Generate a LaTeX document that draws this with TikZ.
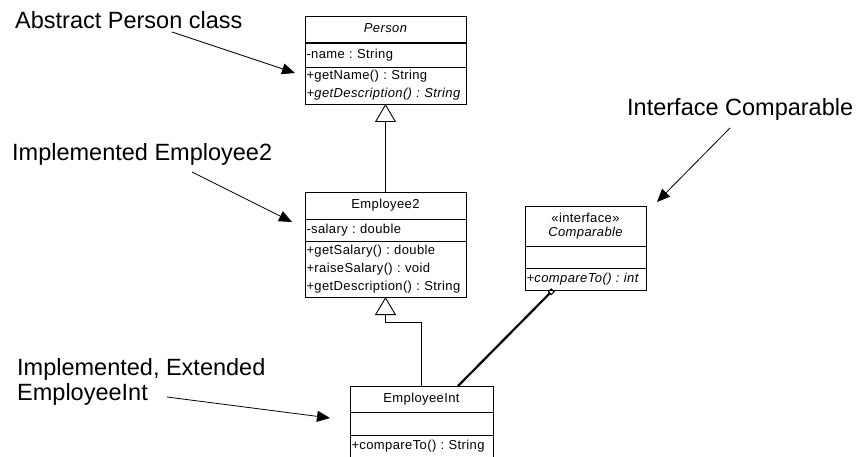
\documentclass[tikz,border=0pt]{standalone}
\usepackage{fontspec}
\setmainfont{Liberation Sans}
\newfontfamily\umlfont[LetterSpace=3]{Liberation Sans}
\usetikzlibrary{positioning,arrows.meta}

\begin{document}
\begin{tikzpicture}[x=1pt, y=-1pt, box/.style={draw, rectangle, line width=0.9pt, inner xsep=1.5pt, inner ysep=0pt, outer sep=0pt, align=left, font=\umlfont\fontsize{13}{18}\selectfont}, oneline/.style={text height=9.5pt, text depth=3pt}, note/.style={font=\fontsize{23.5}{25}\selectfont, inner sep=0pt, anchor=base west}, pointer/.style={line width=0.8pt, -{Triangle[length=13pt, width=11pt]}}, inherit/.style={line width=0.9pt, -{Triangle[open, length=18pt, width=21pt]}}]

\useasboundingbox (0,0) rectangle (859,457);

\node(person) [box, oneline, anchor=north west, text width=158pt, minimum height=27pt, align=center] at (305,16) {\itshape Person};
\node(personattr) [box, oneline, below=0pt of person, text width=158pt, minimum height=24pt] {-name~:~String};
\node(personops) [box, below=0pt of personattr, text width=158pt, minimum height=37pt] {+getName()~:~String\\{\itshape +getDescription()~:~String}};

\node(employee) [box, oneline, below=88pt of personops, text width=158pt, minimum height=27pt, align=center] {Employee2};
\node(employeeattr) [box, oneline, below=0pt of employee, text width=158pt, minimum height=22pt] {-salary~:~double};
\node(employeeops) [box, below=0pt of employeeattr, text width=158pt, minimum height=56pt] {+getSalary()~:~double\\+raiseSalary()~:~void\\+getDescription()~:~String};

\node(employeeint) [box, oneline, anchor=north west, text width=140pt, minimum height=26pt, align=center] at (350,386) {EmployeeInt};
\node(employeeintattr) [box, oneline, below=0pt of employeeint, text width=140pt, minimum height=23pt] {};
\node(employeeintops) [box, oneline, below=0pt of employeeintattr, text width=140pt, minimum height=22pt] {+compareTo()~:~String};

\node(comparable) [box, anchor=north west, text width=118pt, minimum height=40pt, align=center, font=\umlfont\fontsize{13}{14}\selectfont] at (525,206) {«interface»\\{\itshape Comparable}};
\node(comparableattr) [box, oneline, below=0pt of comparable, text width=118pt, minimum height=22pt] {};
\node(comparableops) [box, oneline, below=0pt of comparableattr, text width=118pt, minimum height=22pt] {\itshape +compareTo()~:~int};

\node(lblperson) [note] at (15,29) {Abstract Person class};
\node(lblemployee) [note] at (12,161) {Implemented Employee2};
\node(lblcomparable) [note] at (627,116) {Interface Comparable};
\node(lblint) [note] at (17,375) {Implemented, Extended};
\node(lblintb) [note] at (17,400) {EmployeeInt};

\draw[line width=2pt] (person.south west)--(person.south east);

\draw[inherit] (employee.north)--(personops.south);
\draw[inherit] (employeeint.north)--++(0,-64)-|(employeeops.south);
\draw[line width=2.2pt, -{Square[open, length=5pt, width=5pt, line width=1pt]}] ([xshift=-35pt]employeeint.north east)--([xshift=28pt]comparableops.south west);

\draw[pointer] ([shift={(157,3)}]lblperson.base west)--([shift={(-10,6)}]personops.north west);
\draw[pointer] ([shift={(180,11)}]lblemployee.base west)--([shift={(-13,3)}]employeeattr.north west);
\draw[pointer] ([shift={(103,12)}]lblcomparable.base west)--([shift={(11,-4)}]comparable.north east);
\draw[pointer] ([shift={(150,-3)}]lblintb.base west)--([shift={(-20,6)}]employeeintattr.north west);
\end{tikzpicture}
\end{document}
